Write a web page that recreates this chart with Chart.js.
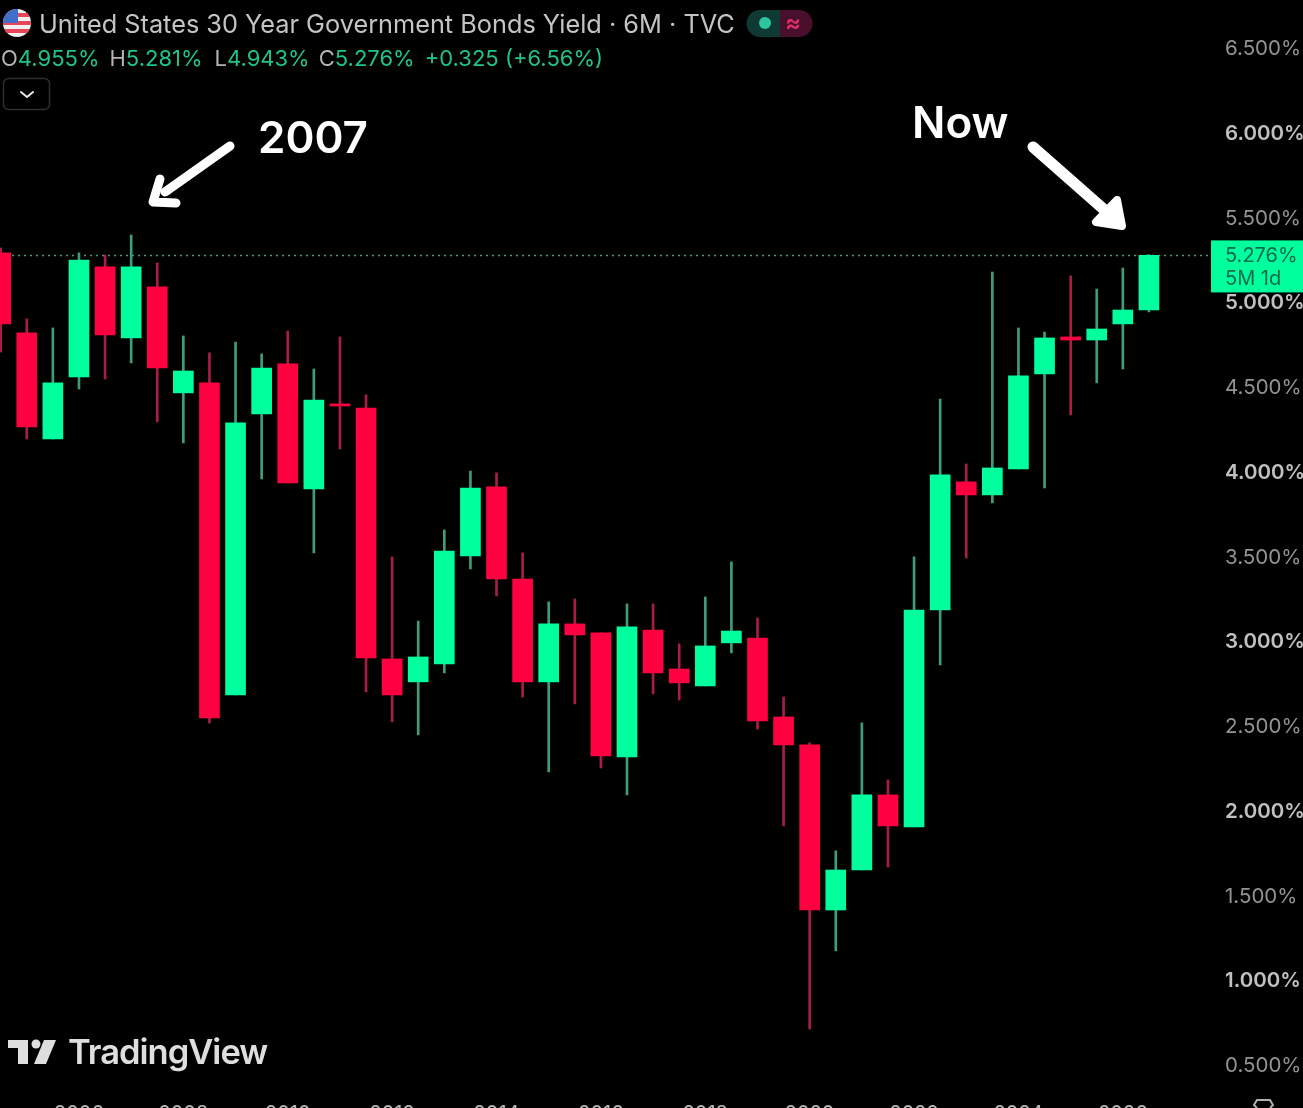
<!DOCTYPE html>
<html>
<head>
<meta charset="utf-8">
<title>US 30Y Yield</title>
<script src="https://cdn.jsdelivr.net/npm/chart.js@4/dist/chart.umd.min.js"></script>
<style>
  html, body { margin: 0; background: #000; width: 1303px; height: 1108px; overflow: hidden; }
  body { position: relative; font-family: Inter, Roboto, sans-serif; }
  canvas { position: absolute; left: 0; top: 0; }
  .txt { position: absolute; white-space: nowrap; }
  #title { left: 39px; top: 9px; font-size: 25.3px; color: #c4c4c4; line-height: 30px; }
  #ohlc { left: 1px; top: 44px; font-size: 22px; line-height: 28px; color: #1fc48a; }
  #ohlc b { font-weight: 400; color: #b4b4b4; }
  #ohlc span { margin-right: 10px; }
  .note { color: #fff; font-weight: 600; font-size: 44px; line-height: 50px; }
  #wm { left: 68px; top: 1031px; font-size: 34.5px; line-height: 42px; font-weight: 600; color: #dedede; letter-spacing: -1px; }
  svg.over { position: absolute; left: 0; top: 0; }
</style>
</head>
<body>
<canvas id="myChart" width="1303" height="1130"></canvas>

<svg class="over" width="1303" height="1108">
  <clipPath id="flagClip"><circle cx="17" cy="23" r="14"/></clipPath>
  <g clip-path="url(#flagClip)">
    <rect x="3" y="9" width="28" height="28" fill="#f0f0f0"/>
    <rect x="3" y="13" width="28" height="4" fill="#e8455a"/>
    <rect x="3" y="21" width="28" height="4" fill="#e8455a"/>
    <rect x="3" y="29" width="28" height="4" fill="#e8455a"/>
    <rect x="3" y="9" width="15" height="14" fill="#3f6fc8"/>
  </g>
  <path d="M760 10h20v27h-20a13 13 0 0 1 0-27z" fill="#0e3a33"/>
  <path d="M780 10h19a13 13 0 0 1 0 27h-19z" fill="#4a0f2c"/>
  <circle cx="765" cy="23" r="6" fill="#2fc4a0"/>
  <rect x="3.5" y="78.5" width="46" height="31" rx="5" fill="none" stroke="#2e2e2e" stroke-width="1.5"/>
  <path d="M21 92l6 5 6-5" fill="none" stroke="#e8e8e8" stroke-width="2" stroke-linecap="round" stroke-linejoin="round"/>
  <g fill="#fff" stroke="#fff" stroke-linecap="round" stroke-linejoin="round">
    <path d="M230 146L165 192" fill="none" stroke-width="9"/>
    <path d="M160 179L153 202L176 203" fill="none" stroke-width="9"/>
    <path d="M1033 147L1108 213" fill="none" stroke-width="11"/>
    <path d="M1096 222L1122 226L1117 200Z" stroke-width="8"/>
  </g>
  <g fill="#dedede">
    <path d="M8 1040h20v24h-10v-16h-10z"/>
    <circle cx="36" cy="1044" r="4.5"/>
    <path d="M44 1040h12l-10 24h-12z"/>
  </g>
  <path d="M1257 1108l-3-3 3-5h13l3 5-3 3" fill="none" stroke="#b0b0b0" stroke-width="2"/>
</svg>

<div class="txt" id="title">United States 30 Year Government Bonds Yield · 6M · TVC</div>
<div class="txt" style="left:785px;top:9px;font-size:24px;line-height:28px;color:#e0306a;font-weight:600">≈</div>
<div class="txt" id="ohlc"><span><b>O</b>4.955%</span><span style="margin-right:12px"><b>H</b>5.281%</span><span style="margin-right:9px"><b>L</b>4.943%</span><span><b>C</b>5.276%</span><span>+0.325 (+6.56%)</span></div>
<div class="txt note" style="left:258px;top:112px">2007</div>
<div class="txt note" style="left:912px;top:97px">Now</div>
<div class="txt" id="wm">TradingView</div>

<script>
// half-year candles, the first one is cut by the left edge
const periods = [
  2004.5, 2005, 2005.5, 2006, 2006.5, 2007, 2007.5, 2008, 2008.5, 2009, 2009.5,
  2010, 2010.5, 2011, 2011.5, 2012, 2012.5, 2013, 2013.5, 2014, 2014.5, 2015,
  2015.5, 2016, 2016.5, 2017, 2017.5, 2018, 2018.5, 2019, 2019.5, 2020, 2020.5,
  2021, 2021.5, 2022, 2022.5, 2023, 2023.5, 2024, 2024.5, 2025, 2025.5, 2026, 2026.5
];
const opens = [
  5.291, 4.819, 4.193, 4.559, 5.208, 4.789, 5.090, 4.465, 4.524, 2.683, 4.341,
  4.636, 3.898, 4.400, 4.376, 2.895, 2.760, 2.866, 3.503, 3.910, 3.367, 2.760,
  3.102, 3.049, 2.317, 3.066, 2.836, 2.736, 2.990, 3.019, 2.553, 2.388, 1.414,
  1.650, 2.093, 1.904, 3.184, 3.940, 3.863, 4.016, 4.577, 4.795, 4.777, 4.872, 4.955
];
const highs = [
  5.320, 4.901, 4.848, 5.291, 5.279, 5.397, 5.232, 4.801, 4.701, 4.765, 4.695,
  4.830, 4.606, 4.795, 4.453, 3.497, 3.119, 3.656, 4.004, 3.993, 3.521, 3.232,
  3.249, 3.049, 3.220, 3.220, 2.984, 3.261, 3.468, 3.137, 2.671, 2.400, 1.763,
  2.518, 2.181, 3.497, 4.429, 4.046, 5.178, 4.848, 4.824, 5.155, 5.078, 5.202, 5.281
];
const lows = [
  4.706, 4.193, 4.193, 4.488, 4.547, 4.642, 4.294, 4.170, 2.518, 2.683, 3.957,
  3.934, 3.521, 4.134, 2.701, 2.524, 2.447, 2.813, 3.426, 3.267, 2.671, 2.229,
  2.630, 2.252, 2.093, 2.689, 2.653, 2.736, 2.931, 2.482, 1.910, 0.712, 1.173,
  1.650, 1.668, 1.904, 2.860, 3.491, 3.816, 4.016, 3.904, 4.335, 4.524, 4.606, 4.943
];
const closes = [
  4.872, 4.264, 4.524, 5.249, 4.807, 5.208, 4.612, 4.594, 2.547, 4.288, 4.612,
  3.934, 4.423, 4.388, 2.901, 2.683, 2.907, 3.532, 3.904, 3.367, 2.760, 3.102,
  3.037, 2.323, 3.084, 2.813, 2.754, 2.972, 3.060, 2.529, 2.388, 1.414, 1.650,
  2.093, 1.910, 3.184, 3.981, 3.863, 4.022, 4.565, 4.789, 4.777, 4.842, 4.954, 5.276
];
const yearTicks = [2006, 2008, 2010, 2012, 2014, 2016, 2018, 2020, 2022, 2024, 2026];
const yieldTicks = [0.5, 1, 1.5, 2, 2.5, 3, 3.5, 4, 4.5, 5, 5.5, 6, 6.5];

const UP = "#00ff9d";
const DOWN = "#ff0040";
const UP_WICK = "#3f9c7b";
const DOWN_WICK = "#a81e45";
const FONT = "Inter, Roboto, sans-serif";

const isUp = (i) => closes[i] >= opens[i];
const isWhole = (c) => !!c.tick && c.tick.value % 1 === 0;
const lastClose = closes[closes.length - 1];
const xMin = 2004.487;
const xMax = 2027.67;

const lastPriceLabel = {
  id: "lastPriceLabel",
  afterDraw(chart) {
    const ctx = chart.ctx;
    const y = chart.scales.y.getPixelForValue(lastClose);
    const left = chart.chartArea.right + 1;
    ctx.save();
    ctx.fillStyle = UP;
    ctx.fillRect(left, y - 15, chart.width - left, 52);
    ctx.fillStyle = "#0f6a4e";
    ctx.font = "20px " + FONT;
    ctx.textBaseline = "middle";
    ctx.fillText(lastClose.toFixed(3) + "%", 1225, y + 0.5);
    ctx.fillText("5M 1d", 1225, y + 24);
    ctx.restore();
  },
};

new Chart(document.getElementById("myChart").getContext("2d"), {
  type: "bar",
  data: {
    datasets: [
      {
        type: "bar",
        order: 1,
        grouped: false,
        data: periods.map((x, i) => ({ x, y: [opens[i], closes[i]] })),
        backgroundColor: (c) => (isUp(c.dataIndex) ? UP : DOWN),
        barPercentage: 1,
        categoryPercentage: 1,
        maxBarThickness: 20,
      },
      {
        type: "bar",
        order: 2,
        grouped: false,
        data: periods.map((x, i) => ({ x, y: [lows[i], highs[i]] })),
        backgroundColor: (c) => (isUp(c.dataIndex) ? UP_WICK : DOWN_WICK),
        barPercentage: 1,
        categoryPercentage: 1,
        maxBarThickness: 2,
      },
      {
        type: "line",
        order: 3,
        data: [
          { x: xMin, y: lastClose },
          { x: xMax, y: lastClose },
        ],
        borderColor: "#3f9c7b",
        borderWidth: 1.5,
        borderDash: [2, 4],
        pointRadius: 0,
      },
    ],
  },
  options: {
    responsive: false,
    animation: false,
    layout: { padding: 0 },
    plugins: { legend: { display: false }, tooltip: { enabled: false } },
    scales: {
      x: {
        type: "linear",
        min: xMin,
        max: xMax,
        offset: false,
        grid: { display: false },
        border: { display: false },
        afterBuildTicks: (s) => { s.ticks = yearTicks.map((value) => ({ value })); },
        afterFit: (s) => { s.height = 40; s.paddingLeft = 0; s.paddingRight = 0; },
        ticks: {
          autoSkip: false,
          maxRotation: 0,
          padding: 4,
          color: "#b8b8b8",
          font: { family: FONT, size: 20 },
          callback: (v) => String(v),
        },
      },
      y: {
        position: "right",
        min: 0.352,
        max: 6.783,
        grid: { display: false, drawTicks: false },
        border: { display: false },
        afterBuildTicks: (s) => { s.ticks = yieldTicks.map((value) => ({ value })); },
        afterFit: (s) => { s.width = 93; s.paddingTop = 0; s.paddingBottom = 0; },
        ticks: {
          autoSkip: false,
          padding: 15,
          labelOffset: 1,
          color: (c) => (isWhole(c) ? "#c0c0c0" : "#939393"),
          font: (c) => ({ family: FONT, size: 20.5, weight: isWhole(c) ? "600" : "400" }),
          callback: (v) => v.toFixed(3) + "%",
        },
      },
    },
  },
  plugins: [lastPriceLabel],
});
</script>
</body>
</html>
